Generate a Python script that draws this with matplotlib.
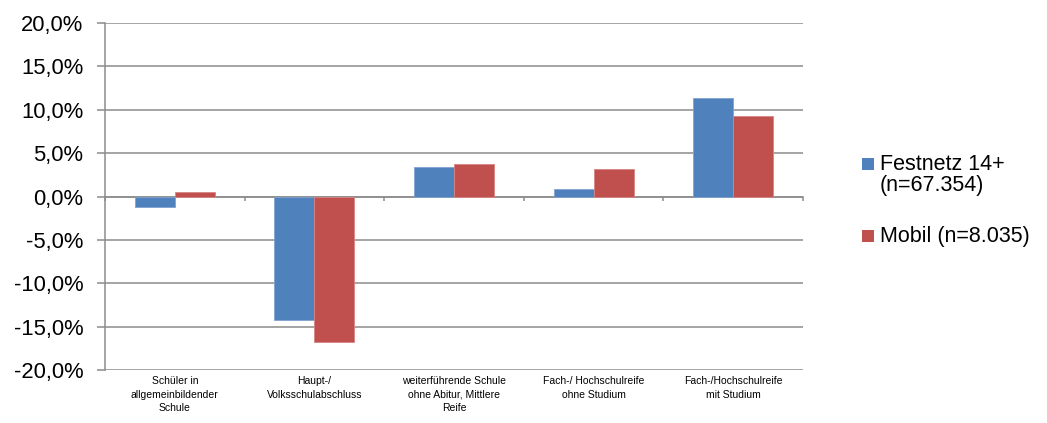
import matplotlib
matplotlib.use("Agg")
import matplotlib.pyplot as plt
from matplotlib.patches import Rectangle
from matplotlib.transforms import blended_transform_factory
import numpy as np

plt.rcParams['font.family'] = ['Liberation Sans', 'DejaVu Sans']

categories = [
    "Schüler in\nallgemeinbildender\nSchule",
    "Haupt-/\nVolksschulabschluss",
    "weiterführende Schule\nohne Abitur, Mittlere\nReife",
    "Fach-/ Hochschulreife\nohne Studium",
    "Fach-/Hochschulreife\nmit Studium",
]
festnetz = [-1.2, -14.2, 3.4, 0.9, 11.3]
mobil = [0.5, -16.8, 3.8, 3.2, 9.3]
series_labels = ["Festnetz 14+\n(n=67.354)", "Mobil (n=8.035)"]
y_ticks = [-20, -15, -10, -5, 0, 5, 10, 15, 20]

blue = "#4F81BD"
red = "#C0504D"
grid_c = "#8C8C8C"

W, H = 1047, 423
fig = plt.figure(figsize=(W / 100, H / 100), dpi=100)
ax = fig.add_axes([105 / W, 1 - 370 / H, 698 / W, 347 / H])

x = np.arange(len(categories))
w = 0.286
ax.bar(x - w / 2, festnetz, width=w, color=blue, edgecolor="#7FA3D0", linewidth=0.6, zorder=3)
ax.bar(x + w / 2, mobil, width=w, color=red, edgecolor="#D88482", linewidth=0.6, zorder=3)

ax.set_xlim(-0.5, len(categories) - 0.5)
ax.set_ylim(-20, 20)
ax.set_yticks(y_ticks)
ax.set_yticklabels([f"{v:.1f}".replace(".", ",") + "%" for v in y_ticks], fontsize=15.8)
ax.yaxis.grid(True, color=grid_c, linewidth=1.1, zorder=0)
ax.set_axisbelow(True)
ax.tick_params(axis="y", length=5.5, width=1.1, color=grid_c, pad=10)

for s in ["top", "right"]:
    ax.spines[s].set_visible(False)
ax.spines["left"].set_color(grid_c)
ax.spines["left"].set_linewidth(1.1)

# category axis runs along the zero line, with ticks between categories
ax.spines["bottom"].set_position(("data", 0))
ax.spines["bottom"].set_color(grid_c)
ax.spines["bottom"].set_linewidth(1.1)
ax.set_xticks(np.arange(len(categories) + 1) - 0.5)
ax.set_xticklabels([])
ax.tick_params(axis="x", length=3, width=1.1, color=grid_c, direction="out")

# category labels below the plot area
tr = blended_transform_factory(ax.transData, ax.transAxes)
for xi, lab in zip(x, categories):
    ax.text(xi, -0.018, lab, transform=tr, ha="center", va="top",
            fontsize=7.5, linespacing=1.45)

# legend: colour square followed by the series label, one text per line
legend_rows = [(blue, series_labels[0], 170.5), (red, series_labels[1], 242)]
for color, label, base in legend_rows:
    fig.patches.append(Rectangle((862 / W, 1 - base / H), 12 / W, 12 / H,
                                 transform=fig.transFigure, facecolor=color,
                                 edgecolor="none"))
    for i, line in enumerate(label.split("\n")):
        fig.text(880 / W, 1 - (base + 21 * i) / H, line, ha="left", va="baseline",
                 fontsize=15.5)

fig.savefig("out.png", dpi=100)
